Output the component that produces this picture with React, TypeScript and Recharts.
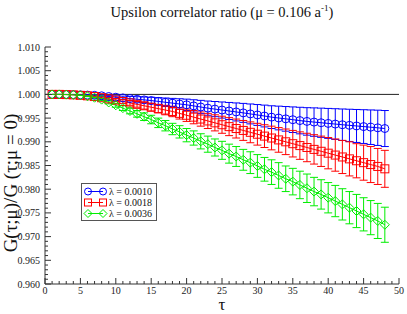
import React from 'react';
import { LineChart, Line, XAxis, YAxis, ReferenceLine, ErrorBar, Legend } from 'recharts';

const taus = [
  1, 2, 3, 4, 5, 6, 7, 8, 9, 10, 11, 12, 13, 14, 15, 16, 17, 18, 19, 20, 21, 22, 23, 24,
  25, 26, 27, 28, 29, 30, 31, 32, 33, 34, 35, 36, 37, 38, 39, 40, 41, 42, 43, 44, 45, 46, 47, 48,
];

// lambda = 0.0010
const blueVals = [
  1.0, 1.0, 0.99998, 0.99995, 0.9999, 0.99985, 0.9998, 0.9997, 0.99955, 0.9994, 0.99926, 0.99912,
  0.99898, 0.99884, 0.9987, 0.99852, 0.99834, 0.99816, 0.99798, 0.9978, 0.99757, 0.99734, 0.9971, 0.9969,
  0.9967, 0.9965, 0.9963, 0.9961, 0.99588, 0.99566, 0.99544, 0.9952, 0.99502, 0.99484, 0.99466, 0.99448,
  0.9943, 0.99416, 0.99402, 0.99388, 0.99374, 0.9936, 0.99347, 0.99334, 0.99321, 0.99308, 0.99295, 0.9928,
];
const blueErr = [
  0, 0, 0, 0, 0.00002, 0.00005, 0.0001, 0.00015, 0.0002, 0.0003, 0.00037, 0.00045,
  0.00053, 0.00061, 0.0007, 0.0008, 0.0009, 0.001, 0.0011, 0.0012, 0.0013, 0.0014, 0.0015, 0.0016,
  0.0017, 0.0018, 0.0019, 0.002, 0.0021, 0.0022, 0.0023, 0.0024, 0.0025, 0.0026, 0.0027, 0.0028,
  0.0029, 0.003, 0.00308, 0.00316, 0.00324, 0.00332, 0.0034, 0.00348, 0.00356, 0.00364, 0.00372, 0.0038,
];

// lambda = 0.0018
const redVals = [
  1.0, 1.0, 0.99996, 0.9999, 0.9998, 0.9997, 0.99955, 0.9993, 0.99905, 0.9988, 0.9985, 0.9982,
  0.9979, 0.9976, 0.9973, 0.997, 0.9967, 0.9964, 0.996, 0.9956, 0.9952, 0.9948, 0.9944, 0.994,
  0.9936, 0.9932, 0.9928, 0.9924, 0.992, 0.9916, 0.9912, 0.9908, 0.9904, 0.99, 0.9896, 0.9892,
  0.9888, 0.9884, 0.988, 0.9876, 0.9872, 0.9868, 0.9864, 0.986, 0.9856, 0.9852, 0.9848, 0.9843,
];
const redErr = [
  0, 0, 0, 0, 0.00003, 0.00006, 0.0001, 0.00016, 0.00024, 0.00032, 0.0004, 0.0005,
  0.0006, 0.0007, 0.0008, 0.0009, 0.001, 0.0011, 0.0012, 0.0013, 0.0014, 0.0015, 0.0016, 0.0017,
  0.0018, 0.0019, 0.002, 0.0021, 0.0022, 0.0023, 0.0024, 0.0025, 0.0026, 0.0027, 0.0028, 0.0029,
  0.003, 0.0031, 0.0032, 0.0033, 0.0034, 0.0035, 0.0036, 0.0036, 0.0037, 0.0038, 0.0038, 0.0039,
];

// lambda = 0.0036
const greenVals = [
  1.0, 1.0, 0.99995, 0.9999, 0.9998, 0.9996, 0.9993, 0.9989, 0.9983, 0.9977, 0.9971, 0.9965,
  0.9959, 0.9953, 0.9947, 0.994, 0.9934, 0.9927, 0.9921, 0.9914, 0.9908, 0.9901, 0.9895, 0.9888,
  0.9882, 0.9875, 0.9869, 0.9862, 0.9856, 0.9849, 0.9842, 0.9836, 0.9829, 0.9822, 0.9816, 0.9809,
  0.9802, 0.9795, 0.9789, 0.9782, 0.9775, 0.9768, 0.9761, 0.9754, 0.9747, 0.974, 0.9733, 0.9725,
];
const greenErr = [
  0, 0, 0, 0, 0.00003, 0.00007, 0.00012, 0.0002, 0.0003, 0.0004, 0.0005, 0.0006,
  0.0007, 0.0008, 0.0009, 0.001, 0.0011, 0.0012, 0.0013, 0.0014, 0.0015, 0.0016, 0.0017, 0.0018,
  0.0019, 0.002, 0.0021, 0.0022, 0.0023, 0.0024, 0.0025, 0.0026, 0.0027, 0.0027, 0.0028, 0.0029,
  0.003, 0.003, 0.0031, 0.0032, 0.0033, 0.0033, 0.0034, 0.0035, 0.0035, 0.0036, 0.0037, 0.0037,
];

const seriesLabels = ['0.0010', '0.0018', '0.0036'];
const seriesColors = ['#0000ff', '#ff0000', '#00ee00'];

const xTicks = [
  0, 1, 2, 3, 4, 5, 6, 7, 8, 9, 10, 11, 12, 13, 14, 15, 16, 17, 18, 19, 20, 21, 22, 23, 24, 25,
  26, 27, 28, 29, 30, 31, 32, 33, 34, 35, 36, 37, 38, 39, 40, 41, 42, 43, 44, 45, 46, 47, 48, 49, 50,
];
const yTicks = xTicks.map((i) => Math.round(960 + i) / 1000);

const data = taus.map((tau, i) => ({
  tau,
  b: blueVals[i],
  bErr: blueErr[i],
  r: redVals[i],
  rErr: redErr[i],
  g: greenVals[i],
  gErr: greenErr[i],
}));

const FONT = '"Liberation Serif", "Times New Roman", serif';
const AXIS = '#333';
const tickText = { fontFamily: FONT, fontSize: 10 };

const isMajorX = (v: number) => v % 5 === 0;
const isMajorY = (v: number) => Math.round(v * 1000) % 5 === 0;

const BottomTick = (props: any) => {
  const { x, y, payload } = props;
  const major = isMajorX(payload.value);
  return (
    <g>
      <line x1={x} y1={y} x2={x} y2={y - (major ? 6 : 3)} stroke={AXIS} />
      {major && (
        <text x={x} y={y + 10} textAnchor="middle" style={tickText} fill="#222">
          {payload.value}
        </text>
      )}
    </g>
  );
};

const TopTick = (props: any) => {
  const { x, y, payload } = props;
  const major = isMajorX(payload.value);
  return <line x1={x} y1={y} x2={x} y2={y + (major ? 6 : 3)} stroke={AXIS} />;
};

const LeftTick = (props: any) => {
  const { x, y, payload } = props;
  const major = isMajorY(payload.value);
  return (
    <g>
      <line x1={x} y1={y} x2={x + (major ? 6 : 3)} y2={y} stroke={AXIS} />
      {major && (
        <text x={x - 5} y={y + 3.5} textAnchor="end" style={tickText} fill="#222">
          {payload.value.toFixed(3)}
        </text>
      )}
    </g>
  );
};

const RightTick = (props: any) => {
  const { x, y, payload } = props;
  const major = isMajorY(payload.value);
  return <line x1={x} y1={y} x2={x - (major ? 6 : 3)} y2={y} stroke={AXIS} />;
};

const Square = (props: any) => {
  const { cx, cy, index } = props;
  return <rect key={`s${index}`} x={cx - 4} y={cy - 4} width={8} height={8} fill="none" stroke={seriesColors[1]} />;
};

const Diamond = (props: any) => {
  const { cx, cy, index } = props;
  return (
    <polygon
      key={`d${index}`}
      points={`${cx},${cy - 4.5} ${cx + 4.5},${cy} ${cx},${cy + 4.5} ${cx - 4.5},${cy}`}
      fill="none"
      stroke={seriesColors[2]}
    />
  );
};

const marker = (kind: number, cx: number, cy: number, color: string) => {
  if (kind === 0) return <circle cx={cx} cy={cy} r={3.5} fill="none" stroke={color} />;
  if (kind === 1) return <rect x={cx - 3.5} y={cy - 3.5} width={7} height={7} fill="none" stroke={color} />;
  return (
    <polygon
      points={`${cx},${cy - 4} ${cx + 4},${cy} ${cx},${cy + 4} ${cx - 4},${cy}`}
      fill="none"
      stroke={color}
    />
  );
};

const LegendBox = () => (
  <div
    style={{
      border: '1px solid #555',
      background: '#fff',
      width: 76,
      boxSizing: 'border-box',
      padding: '2px 0 1px 0',
      fontFamily: FONT,
      fontSize: 10,
      lineHeight: '11px',
      color: '#111',
    }}
  >
    {seriesLabels.map((lab, i) => (
      <div key={lab} style={{ display: 'flex', alignItems: 'center', height: 11 }}>
        <svg width={27} height={11} style={{ flex: 'none' }}>
          <line x1={6} y1={5.5} x2={21} y2={5.5} stroke={seriesColors[i]} />
          {marker(i, 6, 5.5, seriesColors[i])}
          {marker(i, 21, 5.5, seriesColors[i])}
        </svg>
        <span style={{ whiteSpace: 'nowrap' }}>λ = {lab}</span>
      </div>
    ))}
  </div>
);

export default function App() {
  return (
    <div style={{ position: 'absolute', left: 0, top: 0, width: 407, height: 314, background: '#fff', fontFamily: FONT }}>
      <div
        style={{
          position: 'absolute',
          left: 45,
          width: 354,
          top: 3,
          textAlign: 'center',
          fontSize: 14.5,
          color: '#111',
          whiteSpace: 'nowrap',
        }}
      >
        Upsilon correlator ratio (μ = 0.106 a<sup style={{ fontSize: 9, verticalAlign: 6 }}>-1</sup>)
      </div>
      <div
        style={{
          position: 'absolute',
          left: 10,
          top: 183,
          transform: 'translate(-50%, -50%) rotate(-90deg)',
          fontSize: 19,
          lineHeight: '19px',
          whiteSpace: 'nowrap',
          color: '#111',
        }}
      >
        G(τ;μ)/G (τ;μ = 0)
      </div>
      <svg width={407} height={314} style={{ position: 'absolute', left: 0, top: 0, pointerEvents: 'none' }}>
        <text x={222} y={310.3} textAnchor="middle" style={{ fontFamily: FONT, fontSize: 17 }} fill="#111">
          τ
        </text>
      </svg>
      <LineChart width={407} height={314} data={data} margin={{ top: 47, right: 8, bottom: 0, left: 0 }}>
        <XAxis
          dataKey="tau"
          type="number"
          domain={[0, 50]}
          ticks={xTicks}
          interval={0}
          allowDataOverflow
          height={30}
          tickSize={0}
          tickMargin={0}
          tickLine={false}
          axisLine={{ stroke: AXIS }}
          tick={<BottomTick />}
        />
        <XAxis
          xAxisId="top"
          orientation="top"
          dataKey="tau"
          type="number"
          domain={[0, 50]}
          ticks={xTicks}
          interval={0}
          allowDataOverflow
          height={0}
          tickSize={0}
          tickMargin={0}
          tickLine={false}
          axisLine={{ stroke: AXIS }}
          tick={<TopTick />}
        />
        <YAxis
          type="number"
          domain={[0.96, 1.01]}
          ticks={yTicks}
          interval={0}
          allowDataOverflow
          width={45}
          tickSize={0}
          tickMargin={0}
          tickLine={false}
          axisLine={{ stroke: AXIS }}
          tick={<LeftTick />}
        />
        <YAxis
          yAxisId="right"
          orientation="right"
          type="number"
          domain={[0.96, 1.01]}
          ticks={yTicks}
          interval={0}
          allowDataOverflow
          width={0}
          tickSize={0}
          tickMargin={0}
          tickLine={false}
          axisLine={{ stroke: AXIS }}
          tick={<RightTick />}
        />
        <ReferenceLine y={1} stroke="#222" strokeWidth={1} />
        <Legend
          layout="horizontal"
          verticalAlign="middle"
          align="center"
          wrapperStyle={{ left: 81, top: 183, width: 'auto' }}
          content={() => <LegendBox />}
        />
        <Line
          dataKey="b"
          stroke={seriesColors[0]}
          strokeWidth={1}
          isAnimationActive={false}
          dot={{ r: 4, fill: 'none', stroke: seriesColors[0], strokeWidth: 1 }}
        >
          <ErrorBar dataKey="bErr" direction="y" width={4} stroke={seriesColors[0]} strokeWidth={1} />
        </Line>
        <Line dataKey="r" stroke={seriesColors[1]} strokeWidth={1} isAnimationActive={false} dot={<Square />}>
          <ErrorBar dataKey="rErr" direction="y" width={4} stroke={seriesColors[1]} strokeWidth={1} />
        </Line>
        <Line dataKey="g" stroke={seriesColors[2]} strokeWidth={1} isAnimationActive={false} dot={<Diamond />}>
          <ErrorBar dataKey="gErr" direction="y" width={4} stroke={seriesColors[2]} strokeWidth={1} />
        </Line>
      </LineChart>
    </div>
  );
}
